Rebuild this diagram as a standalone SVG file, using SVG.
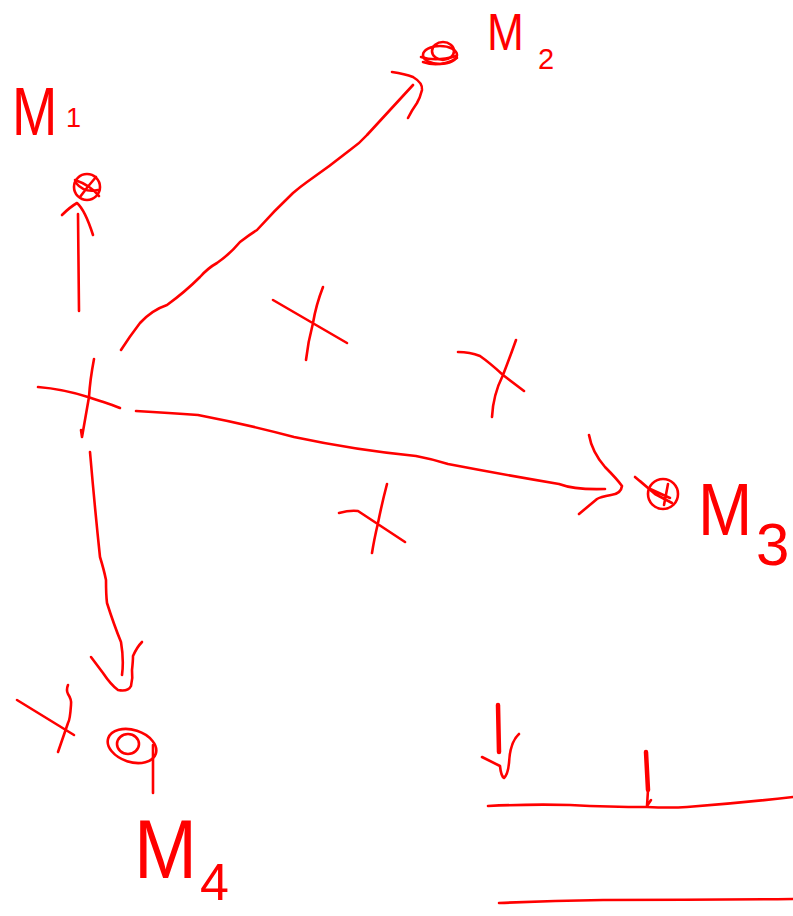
<svg xmlns="http://www.w3.org/2000/svg" width="793" height="916" viewBox="0 0 793 916">
<style>
.s{fill:none;stroke:#ff0000;stroke-width:2.6;stroke-linecap:round;stroke-linejoin:round}
.t{stroke-width:4.5}
.lbl{fill:#ff0000;font-family:"Liberation Sans","DejaVu Sans",sans-serif}
</style>
<rect width="793" height="916" fill="#ffffff"/>
<g id="node-m1">
<circle class="s" cx="87" cy="187" r="13"/>
<path class="s" d="M75 180 Q90 185 99 196 M80 197 Q88 186 96 177 M76 183 Q84 193 98 190"/>
<text class="lbl" transform="translate(12 135) scale(0.8 1)" font-size="68">M</text>
<text class="lbl" x="66" y="127" font-size="27">1</text>
</g>
<g id="node-m2">
<ellipse class="s" cx="440" cy="55" rx="17" ry="9"/>
<ellipse class="s" cx="443" cy="51" rx="11" ry="9"/>
<path class="s" d="M421 57 Q436 62 456 56 M423 62 Q440 68 457 58"/>
<text class="lbl" transform="translate(487 50) scale(0.85 1)" font-size="52">M</text>
<text class="lbl" x="538" y="69" font-size="29">2</text>
</g>
<g id="node-m3">
<circle class="s" cx="663" cy="494" r="15"/>
<path class="s" d="M635 477 L648 488 L670 498 M640 481 L655 494 L672 503 M668 484 L664 505"/>
<text class="lbl" transform="translate(698 535) scale(0.88 1)" font-size="74">M</text>
<text class="lbl" x="756" y="565" font-size="60">3</text>
</g>
<g id="node-m4">
<ellipse class="s" cx="132" cy="746" rx="25" ry="16" transform="rotate(18 132 746)"/>
<ellipse class="s" cx="128" cy="744" rx="11" ry="10"/>
<path class="s" d="M153 745 L153 793"/>
<text class="lbl" transform="translate(134 878) scale(0.9 1)" font-size="84">M</text>
<text class="lbl" x="200" y="900" font-size="52">4</text>
</g>
<g id="node-center">
<path class="s" d="M38 387 Q63 389 88 397 T120 408"/>
<path class="s" d="M94 359 Q90 380 89 397 Q85 420 82 437 M82 437 L81 430"/>
</g>
<g id="connectors">
<path class="s" d="M79 311 L78 214"/>
<path class="s" d="M62 215 Q70 207 77 203 Q85 210 93 235"/>
<path class="s" d="M121 350 Q130 336 140 323 Q152 310 167 305 Q185 292 200 277 Q208 268 217 263 Q230 254 240 242 Q249 235 257 230 Q275 210 293 193 Q300 187 307 182 Q330 166 350 150 Q360 143 367 135 L413 85"/>
<path class="s" d="M392 72 Q405 74 413 77 Q423 83 422 90 Q420 98 417 103 Q412 110 408 118"/>
<path class="s" d="M136 411 Q170 413 198 415 Q245 424 294 437 Q355 450 416 456 Q432 459 448 464 Q500 474 559 484 Q575 490 605 489"/>
<path class="s" d="M589 435 Q592 452 605 467 Q617 479 622 486 Q621 494 611 495 Q600 497 597 499 L579 514"/>
<path class="s" d="M90 452 Q95 510 100 557 Q104 570 106 580 Q106 595 107 603 Q114 625 121 642 Q124 660 122 675"/>
<path class="s" d="M91 657 Q97 665 103 673 Q111 685 118 690 Q128 692 131 686 Q133 678 132 670 Q133 661 133 656 Q137 647 142 642"/>
</g>
<g id="crosses">
<path class="s" d="M273 300 L347 343 M323 287 Q316 305 313 323 Q308 342 306 360"/>
<path class="s" d="M458 352 Q470 352 480 356 Q490 363 503 375 L524 391 M516 340 Q510 357 503 375 Q493 395 492 417"/>
<path class="s" d="M339 513 Q350 510 358 511 L405 542 M387 484 Q382 503 378 523 Q374 540 372 553"/>
<path class="s" d="M17 700 L74 735 M68 685 Q66 690 68 694 Q72 700 71 705 Q70 720 68 723 L58 752"/>
</g>
<g id="bottom-right">
<path class="s" d="M488 806 Q530 804 570 805 Q610 807 647 807 Q670 808 687 807 Q740 803 793 797"/>
<path class="s" d="M499 903 Q550 901 603 900 Q700 900 793 899"/>
<path class="s t" d="M498 705 L499 752"/>
<path class="s" d="M482 757 Q492 762 500 766 Q501 776 504 778 Q508 774 509 763 Q510 742 519 734"/>
<path class="s t" d="M646 752 L648 790"/>
<path class="s" d="M648 790 L647 806 L651 800"/>
</g>
</svg>
